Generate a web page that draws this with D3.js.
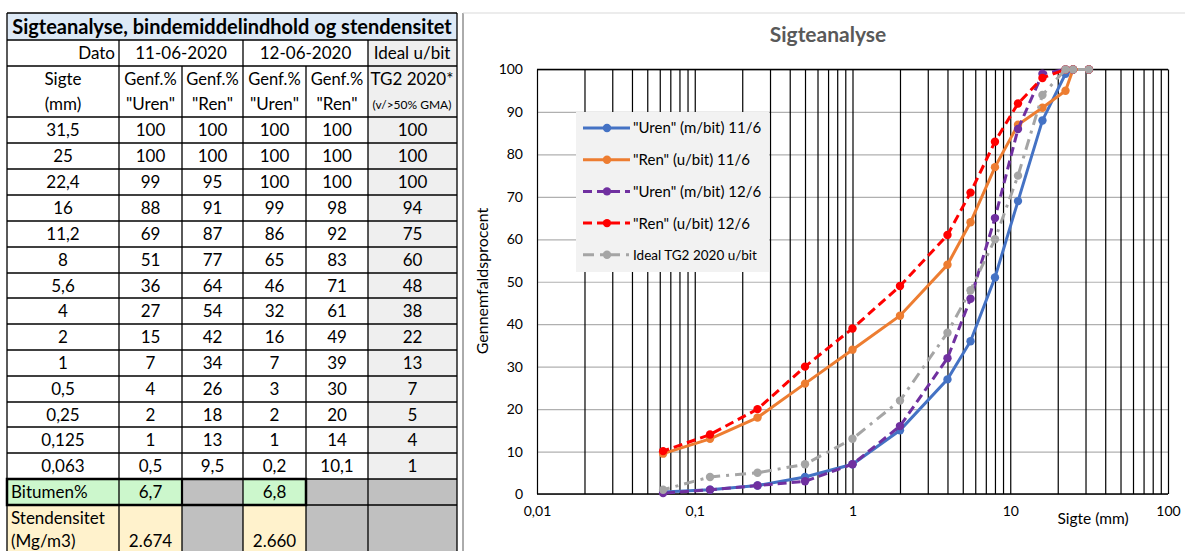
<!DOCTYPE html>
<html>
<head>
<meta charset="utf-8">
<script src="https://cdnjs.cloudflare.com/ajax/libs/d3/7.8.5/d3.min.js"></script>
<style>
  body { margin: 0; background: #fff; }
  svg text { font-family: Lato, "Open Sans", sans-serif; }
</style>
</head>
<body>
<div id="page"></div>
<script>
// sieve sizes (mm) and passing percentages
var sieves = [31.5, 25, 22.4, 16, 11.2, 8, 5.6, 4, 2, 1, 0.5, 0.25, 0.125, 0.063];
var uren1106 = [100, 100, 99, 88, 69, 51, 36, 27, 15, 7, 4, 2, 1, 0.5];
var ren1106 = [100, 100, 95, 91, 87, 77, 64, 54, 42, 34, 26, 18, 13, 9.5];
var uren1206 = [100, 100, 100, 99, 86, 65, 46, 32, 16, 7, 3, 2, 1, 0.2];
var ren1206 = [100, 100, 100, 98, 92, 83, 71, 61, 49, 39, 30, 20, 14, 10.1];
var ideal = [100, 100, 100, 94, 75, 60, 48, 38, 22, 13, 7, 5, 4, 1];

var bitumen = ['6,7', '', '6,8', '', ''];
var density = ['2.674', '', '2.660', '', ''];

var seriesNames = ['"Uren" (m/bit) 11/6', '"Ren" (u/bit) 11/6', '"Uren" (m/bit) 12/6', '"Ren" (u/bit) 12/6', 'Ideal TG2 2020 u/bit'];
var xTicks = [0.01, 0.1, 1, 10, 100];

var svg = d3.select('#page').append('svg')
    .attr('width', 1185)
    .attr('height', 551);

var comma = v => String(v).replace('.', ',');

// ---------- table ----------
var colX = [7, 119, 182, 243, 306, 368, 457];
var rowY = [117, 143, 169, 195, 221, 247, 273, 298, 324, 350, 376, 402, 427, 453, 479];
var table = svg.append('g').attr('class', 'table');
var fs = 17;

function cell(x0, x1, y0, y1, fill) {
    table.append('rect')
        .attr('x', x0).attr('y', y0)
        .attr('width', x1 - x0).attr('height', y1 - y0)
        .attr('fill', fill);
}
function txt(t, x, y, anchor, size, weight) {
    table.append('text')
        .attr('x', x).attr('y', y)
        .attr('dy', '0.36em')
        .attr('text-anchor', anchor || 'middle')
        .attr('font-size', size || fs)
        .attr('font-weight', weight || 'normal')
        .attr('fill', '#000')
        .text(t);
}
function hline(x0, x1, y, w) {
    table.append('line').attr('x1', x0).attr('x2', x1).attr('y1', y).attr('y2', y)
        .attr('stroke', '#000').attr('stroke-width', w || 1.3);
}
function vline(x, y0, y1, w) {
    table.append('line').attr('x1', x).attr('x2', x).attr('y1', y0).attr('y2', y1)
        .attr('stroke', '#000').attr('stroke-width', w || 1.3);
}

// backgrounds
cell(7, 457, 13, 40, '#dde9f6');
cell(368, 457, 40, 479, '#efefef');
[0, 1, 3].forEach(i => cell(colX[i], colX[i + 1], 479, 505, '#ccf7cc'));
[0, 1, 3].forEach(i => cell(colX[i], colX[i + 1], 505, 560, '#fff2cc'));
[2, 4, 5].forEach(i => cell(colX[i], colX[i + 1], 479, 560, '#c0c0c0'));

// header text
txt('Sigteanalyse, bindemiddelindhold og stendensitet', 232, 27, 'middle', 20, 'bold');
txt('Dato', 115, 53, 'end');
txt('11-06-2020', (119 + 243) / 2, 53);
txt('12-06-2020', (243 + 368) / 2, 53);
txt('Ideal u/bit', 412, 53);
txt('Sigte', 63, 79);
txt('(mm)', 63, 104);
[1, 2, 3, 4].forEach(i => txt('Genf.%', (colX[i] + colX[i + 1]) / 2, 79, 'middle', 16.5));
txt('"Uren"', (119 + 182) / 2, 104);
txt('"Ren"', (182 + 243) / 2, 104);
txt('"Uren"', (243 + 306) / 2, 104);
txt('"Ren"', (306 + 368) / 2, 104);
txt('TG2 2020*', 412, 79);
txt('(v/>50% GMA)', 412, 105, 'middle', 12);

// data rows
sieves.forEach(function(s, i) {
    var yc = (rowY[i] + rowY[i + 1]) / 2;
    var vals = [s, uren1106[i], ren1106[i], uren1206[i], ren1206[i], ideal[i]];
    vals.forEach(function(v, j) {
        txt(comma(v), (colX[j] + colX[j + 1]) / 2, yc);
    });
});

txt('Bitumen%', 11, 492, 'start');
bitumen.forEach((v, j) => txt(v, (colX[j + 1] + colX[j + 2]) / 2, 492));
txt('Stendensitet', 11, 518, 'start');
txt('(Mg/m3)', 11, 541, 'start');
density.forEach((v, j) => txt(v, (colX[j + 1] + colX[j + 2]) / 2, 541));

// grid lines
hline(7, 457, 13); hline(7, 457, 40); hline(7, 457, 66);
rowY.forEach(y => hline(7, 457, y));
hline(7, 457, 505);
vline(7, 13, 560); vline(457, 13, 560);
[119, 368].forEach(x => vline(x, 40, 560));
[182, 306].forEach(x => vline(x, 66, 560));
vline(243, 40, 560);
// thick frame around bitumen row
table.append('rect').attr('x', 7).attr('y', 479).attr('width', 299).attr('height', 26)
    .attr('fill', 'none').attr('stroke', '#000').attr('stroke-width', 2.5);
vline(182, 479, 505, 2.2);

// ---------- chart ----------
svg.append('line').attr('x1', 463).attr('x2', 463).attr('y1', 13).attr('y2', 551)
    .attr('stroke', '#595959').attr('stroke-width', 1);
svg.append('line').attr('x1', 463).attr('x2', 1185).attr('y1', 13).attr('y2', 13)
    .attr('stroke', '#d9d9d9').attr('stroke-width', 1);

var margin = {left: 537, top: 69.5};
var chartWidth = 1168 - 537;
var chartHeight = 494 - 69.5;

var chart = svg.append('g')
    .attr('transform', `translate(${margin.left}, ${margin.top})`);

var xScale = d3.scaleLog().domain([0.01, 100]).range([0, chartWidth]);
var yScale = d3.scaleLinear().domain([0, 100]).range([chartHeight, 0]);

// horizontal grid
var yGrid = d3.axisLeft(yScale).ticks(10).tickSize(-chartWidth).tickFormat('');
chart.append('g').attr('class', 'y grid').call(yGrid)
    .call(g => g.select('.domain').remove())
    .call(g => g.selectAll('line').attr('stroke', '#b0b0b0').attr('stroke-width', 1.2));

// vertical log grid
var minor = [];
[0.01, 0.1, 1, 10].forEach(d => { for (var k = 1; k < 10; k++) minor.push(d * k); });
minor.push(100);
var xGrid = d3.axisBottom(xScale).tickValues(minor).tickSize(-chartHeight).tickFormat('');
chart.append('g').attr('class', 'x grid')
    .attr('transform', `translate(0, ${chartHeight})`)
    .call(xGrid)
    .call(g => g.select('.domain').remove())
    .call(g => g.selectAll('line').attr('stroke', '#000').attr('stroke-width', 1.2));

// plot frame top / bottom
chart.append('line').attr('x1', 0).attr('x2', chartWidth).attr('y1', 0).attr('y2', 0)
    .attr('stroke', '#000').attr('stroke-width', 1.4);
chart.append('line').attr('x1', 0).attr('x2', chartWidth).attr('y1', chartHeight).attr('y2', chartHeight)
    .attr('stroke', '#000').attr('stroke-width', 1.4);

// axes labels
var yAxis = d3.axisLeft(yScale).ticks(10).tickSize(0).tickPadding(14);
chart.append('g').attr('class', 'y axis').call(yAxis)
    .call(g => g.select('.domain').remove())
    .call(g => g.selectAll('text').attr('font-size', 14).attr('fill', '#000')
        .style('font-family', 'Lato, "Open Sans", sans-serif'));

var xAxis = d3.axisBottom(xScale).tickValues(xTicks).tickSize(0).tickPadding(12)
    .tickFormat(d => comma(d));
chart.append('g').attr('class', 'x axis')
    .attr('transform', `translate(0, ${chartHeight})`)
    .call(xAxis)
    .call(g => g.select('.domain').remove())
    .call(g => g.selectAll('text').attr('font-size', 14).attr('fill', '#000')
        .style('font-family', 'Lato, "Open Sans", sans-serif'));

svg.append('text')
    .attr('x', 828).attr('y', 42)
    .attr('text-anchor', 'middle')
    .attr('font-size', 21).attr('font-weight', 'bold').attr('fill', '#595959')
    .text('Sigteanalyse');

svg.append('text')
    .attr('x', 1093).attr('y', 524)
    .attr('text-anchor', 'middle')
    .attr('font-size', 15.5).attr('fill', '#000')
    .text('Sigte (mm)');

svg.append('text')
    .attr('transform', 'translate(488, 281) rotate(-90)')
    .attr('text-anchor', 'middle')
    .attr('font-size', 16).attr('fill', '#000')
    .text('Gennemfaldsprocent');

// series
var series = [
    {name: seriesNames[0], values: uren1106, color: '#4472c4', dash: null},
    {name: seriesNames[1], values: ren1106, color: '#ed7d31', dash: null},
    {name: seriesNames[2], values: uren1206, color: '#7030a0', dash: '9,5'},
    {name: seriesNames[3], values: ren1206, color: '#ff0000', dash: '9,5'},
    {name: seriesNames[4], values: ideal, color: '#a5a5a5', dash: '11,6,3,6'}
];

var line = d3.line()
    .x(d => xScale(d.x))
    .y(d => yScale(d.y));

series.forEach(function(s) {
    var pts = sieves.map((x, i) => ({x: x, y: s.values[i]}));
    chart.append('path')
        .datum(pts)
        .attr('fill', 'none')
        .attr('stroke', s.color)
        .attr('stroke-width', 3)
        .attr('stroke-dasharray', s.dash)
        .attr('d', line);
    chart.selectAll(null)
        .data(pts)
        .enter()
        .append('circle')
        .attr('cx', d => xScale(d.x))
        .attr('cy', d => yScale(d.y))
        .attr('r', 4.2)
        .attr('fill', s.color);
});

// legend
var legend = svg.append('g').attr('transform', 'translate(576, 112)');
legend.append('rect').attr('width', 193).attr('height', 160).attr('fill', '#f2f2f2');
series.forEach(function(s, i) {
    var y = 16 + i * 31.7;
    legend.append('line')
        .attr('x1', 7).attr('x2', 54).attr('y1', y).attr('y2', y)
        .attr('stroke', s.color).attr('stroke-width', 3)
        .attr('stroke-dasharray', s.dash);
    legend.append('circle').attr('cx', 31).attr('cy', y).attr('r', 4.2).attr('fill', s.color);
    legend.append('text')
        .attr('x', 57).attr('y', y).attr('dy', '0.36em')
        .attr('font-size', i === 4 ? 13.5 : 15).attr('fill', '#000')
        .text(s.name);
});
</script>
</body>
</html>
